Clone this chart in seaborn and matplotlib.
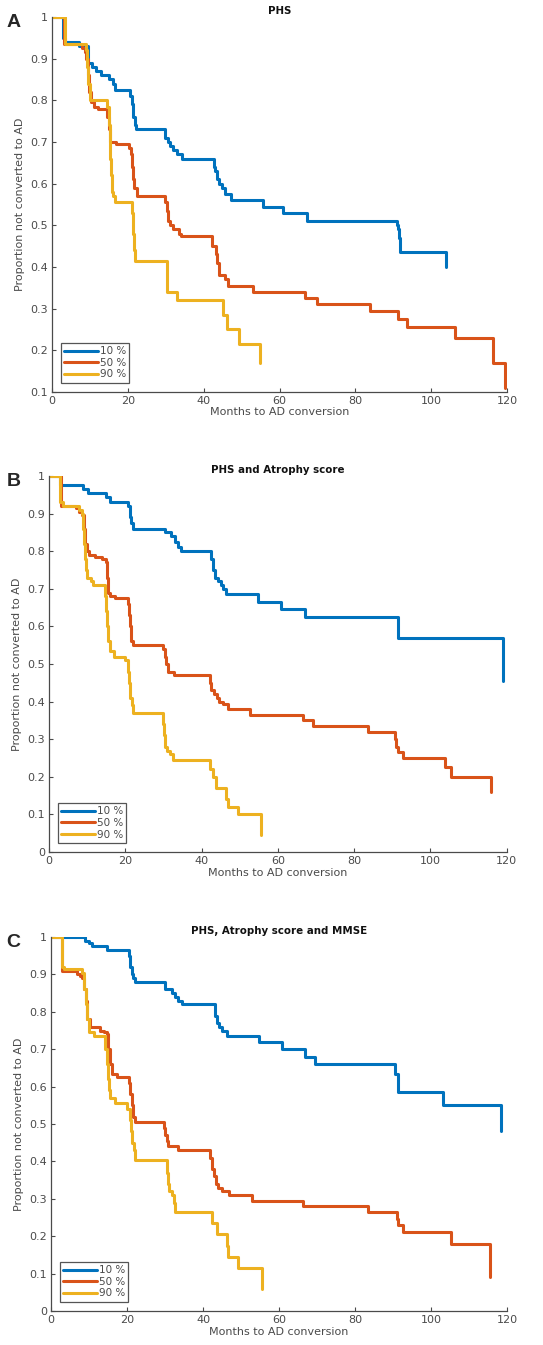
import pandas as pd
import matplotlib
matplotlib.use('Agg')
import matplotlib.pyplot as plt
import seaborn as sns

# --- Panel A: PHS ---
t_A_10 = [0, 3, 3.5, 7, 9.5, 10.5, 11.5, 13, 15, 16, 16.7, 20.6, 21, 21.4, 21.8, 22.2, 29.9, 30.5, 31.2, 32, 33,
          34.2, 42.6, 43, 43.4, 44, 44.8, 45.6, 47.2, 55.7, 61, 67.2, 90.9, 91.2, 91.5, 91.8, 103.9]
s_A_10 = [1.0, 0.95, 0.94, 0.93, 0.89, 0.88, 0.87, 0.86, 0.85, 0.84, 0.825, 0.81, 0.79, 0.76, 0.74, 0.73, 0.71, 0.70,
          0.69, 0.68, 0.67, 0.66, 0.64, 0.63, 0.61, 0.60, 0.59, 0.575, 0.56, 0.545, 0.53, 0.51, 0.50, 0.49, 0.47,
          0.435, 0.40]
t_A_50 = [0, 3.2, 8, 8.6, 9, 9.4, 9.8, 10.2, 11, 12, 14.6, 15, 15.3, 17, 20.2, 20.7, 21, 21.3, 21.6, 22.3, 29.9, 30.3,
          30.7, 31.2, 32, 33.5, 34, 42.1, 43.2, 43.6, 44, 45.5, 46.5, 53.1, 66.7, 69.8, 83.8, 91.3, 93.5, 106.2,
          116.3, 119.4]
s_A_50 = [1.0, 0.935, 0.925, 0.915, 0.90, 0.86, 0.82, 0.795, 0.785, 0.78, 0.76, 0.73, 0.70, 0.695, 0.685, 0.67, 0.64,
          0.61, 0.59, 0.57, 0.555, 0.535, 0.51, 0.50, 0.49, 0.48, 0.475, 0.45, 0.43, 0.41, 0.38, 0.37, 0.355, 0.34,
          0.325, 0.31, 0.295, 0.275, 0.255, 0.23, 0.17, 0.11]
t_A_90 = [0, 3.3, 9, 9.3, 9.6, 10.1, 14.5, 15, 15.2, 15.4, 15.6, 15.8, 16.1, 16.7, 21.1, 21.4, 21.7, 22, 30.3, 32.9,
          45.2, 46.1, 49.2, 54.9]
s_A_90 = [1.0, 0.935, 0.92, 0.88, 0.84, 0.80, 0.785, 0.74, 0.70, 0.66, 0.62, 0.58, 0.57, 0.555, 0.53, 0.48, 0.44,
          0.415, 0.34, 0.32, 0.285, 0.25, 0.215, 0.17]

# --- Panel B: PHS and Atrophy score ---
t_B_10 = [0, 3, 8.9, 10.2, 15, 15.9, 20.7, 21.2, 21.6, 22, 30.3, 32, 33, 33.8, 34.7, 42.5, 43, 43.4, 44.3, 45, 45.6,
          46.5, 54.8, 60.9, 67, 91.4, 119]
s_B_10 = [1.0, 0.975, 0.965, 0.955, 0.945, 0.93, 0.92, 0.89, 0.875, 0.86, 0.85, 0.84, 0.825, 0.81, 0.80, 0.78, 0.75,
          0.73, 0.72, 0.71, 0.70, 0.685, 0.665, 0.645, 0.625, 0.57, 0.455]
t_B_50 = [0, 3.2, 7, 8, 8.7, 9.1, 9.5, 10, 10.6, 12, 14, 15, 15.3, 15.6, 15.9, 17.2, 20.7, 21, 21.3, 21.6, 22, 29.9,
          30.3, 30.7, 31.2, 32.9, 42.1, 42.6, 43.2, 44, 44.7, 45.5, 46.9, 52.6, 66.5, 69.2, 83.6, 90.6, 91, 91.4,
          92.8, 103.7, 105.4, 115.9]
s_B_50 = [1.0, 0.92, 0.915, 0.905, 0.895, 0.86, 0.82, 0.80, 0.79, 0.785, 0.78, 0.77, 0.73, 0.69, 0.68, 0.675, 0.66,
          0.63, 0.60, 0.56, 0.55, 0.54, 0.52, 0.50, 0.48, 0.47, 0.45, 0.43, 0.42, 0.41, 0.40, 0.395, 0.38, 0.365,
          0.35, 0.335, 0.32, 0.30, 0.28, 0.265, 0.25, 0.225, 0.20, 0.16]
t_B_90 = [0, 3, 3.6, 8, 8.7, 9, 9.3, 9.5, 9.7, 10, 11, 11.5, 14.6, 14.9, 15.1, 15.4, 15.9, 17, 19.8, 20.7, 21, 21.3,
          21.7, 22, 29.9, 30.2, 30.5, 31, 31.6, 32.5, 42.1, 43, 43.8, 46.5, 46.8, 49.5, 55.6]
s_B_90 = [1.0, 0.93, 0.92, 0.91, 0.90, 0.86, 0.82, 0.78, 0.75, 0.73, 0.72, 0.71, 0.68, 0.64, 0.60, 0.56, 0.535,
          0.52, 0.51, 0.48, 0.45, 0.41, 0.39, 0.37, 0.34, 0.31, 0.28, 0.27, 0.26, 0.245, 0.22, 0.20, 0.17, 0.14,
          0.12, 0.10, 0.045]

# --- Panel C: PHS, Atrophy score and MMSE ---
t_C_10 = [0, 9, 9.9, 10.8, 14.7, 20.4, 20.8, 21.2, 21.6, 22.2, 30, 31.8, 32.5, 33.5, 34.4, 43.2, 43.7, 44.3, 45,
          46.2, 54.6, 60.7, 66.8, 69.4, 90.5, 91.3, 103.2, 118.5]
s_C_10 = [1.0, 0.99, 0.985, 0.975, 0.965, 0.95, 0.92, 0.90, 0.89, 0.88, 0.86, 0.85, 0.84, 0.83, 0.82, 0.79, 0.77,
          0.76, 0.75, 0.735, 0.72, 0.70, 0.68, 0.66, 0.635, 0.585, 0.55, 0.48]
t_C_50 = [0, 2.9, 6.8, 7.5, 8.1, 8.7, 9.1, 9.5, 10.3, 13, 14, 14.7, 15.1, 15.5, 16, 17.3, 20.4, 20.8, 21.2, 21.6,
          22.2, 29.6, 30.1, 30.5, 30.9, 33.5, 41.9, 42.4, 42.8, 43.3, 44, 44.9, 46.7, 52.8, 66.4, 83.5, 90.9, 91.3,
          92.6, 105.3, 115.4]
s_C_50 = [1.0, 0.91, 0.90, 0.895, 0.89, 0.86, 0.83, 0.78, 0.76, 0.75, 0.745, 0.74, 0.70, 0.66, 0.635, 0.625, 0.61,
          0.58, 0.55, 0.52, 0.505, 0.49, 0.47, 0.455, 0.44, 0.43, 0.41, 0.38, 0.36, 0.34, 0.33, 0.32, 0.31, 0.295,
          0.28, 0.265, 0.245, 0.23, 0.21, 0.18, 0.09]
t_C_90 = [0, 2.9, 3.5, 8.1, 8.8, 9.1, 9.4, 9.9, 11.2, 14.3, 14.6, 14.9, 15.2, 15.6, 16.9, 20, 20.8, 21.1, 21.4, 21.7,
          22, 22.2, 30.5, 30.7, 31, 31.8, 32.3, 32.7, 42.3, 43.7, 46.2, 46.5, 49.3, 55.4]
s_C_90 = [1.0, 0.92, 0.915, 0.905, 0.86, 0.82, 0.78, 0.745, 0.735, 0.70, 0.66, 0.62, 0.59, 0.57, 0.555, 0.54, 0.51,
          0.48, 0.45, 0.43, 0.415, 0.405, 0.37, 0.34, 0.32, 0.31, 0.29, 0.265, 0.235, 0.205, 0.175, 0.145, 0.115,
          0.06]

groups = ['10 %', '50 %', '90 %']
colors = ['#0072BD', '#D95319', '#EDB120']

panels = [
    ('A', 'PHS', [(t_A_10, s_A_10), (t_A_50, s_A_50), (t_A_90, s_A_90)], 0.1, [0.0958, 0.7086, 0.838, 0.2788]),
    ('B', 'PHS and Atrophy score', [(t_B_10, s_B_10), (t_B_50, s_B_50), (t_B_90, s_B_90)], 0.0,
     [0.0902, 0.3665, 0.843, 0.2796]),
    ('C', 'PHS, Atrophy score and MMSE', [(t_C_10, s_C_10), (t_C_50, s_C_50), (t_C_90, s_C_90)], 0.0,
     [0.0940, 0.0253, 0.840, 0.2780]),
]

sns.set_style('ticks')
plt.rcParams['font.family'] = ['DejaVu Sans']
axcol = '#4a4a4a'

fig = plt.figure(figsize=(5.43, 13.45), dpi=100)

for letter, title, curves, ymin, pos in panels:
    ax = fig.add_axes(pos)
    frames = []
    for g, (t, s) in zip(groups, curves):
        frames.append(pd.DataFrame({'month': t, 'prop': s, 'group': g}))
    df = pd.concat(frames, ignore_index=True)
    sns.lineplot(data=df, x='month', y='prop', hue='group', palette=colors, estimator=None,
                 sort=False, drawstyle='steps-post', linewidth=2.2, ax=ax, legend=False)

    ax.set_xlim(0, 120)
    ax.set_ylim(ymin, 1)
    ax.set_xticks(range(0, 121, 20))
    yt = [round(v / 10, 1) for v in range(int(round(ymin * 10)), 11)]
    ax.set_yticks(yt)
    ax.set_yticklabels(['%g' % v for v in yt])
    ax.tick_params(direction='in', length=3, width=0.8, colors=axcol, labelsize=8, pad=3)
    for side in ['top', 'right']:
        ax.spines[side].set_visible(False)
    for side in ['left', 'bottom']:
        ax.spines[side].set_color(axcol)
        ax.spines[side].set_linewidth(0.9)
    ax.set_xlabel('Months to AD conversion', fontsize=8, color=axcol, labelpad=1)
    ax.set_ylabel('Proportion not converted to AD', fontsize=8, color=axcol, labelpad=4)
    ax.set_title(title, fontsize=7.4, fontweight='bold', color='#111111', pad=2)

    handles = [plt.Line2D([], [], color=c, linewidth=2.2) for c in colors]
    leg = ax.legend(handles, groups, loc='lower left', bbox_to_anchor=(0.02, 0.025), fontsize=7.5,
                    handlelength=3.2, handletextpad=0.2, labelspacing=0.15, borderpad=0.3,
                    fancybox=False, framealpha=1, edgecolor='#555555', borderaxespad=0)
    leg.get_frame().set_linewidth(0.9)
    for txt in leg.get_texts():
        txt.set_color(axcol)

    fig.text(0.012, pos[1] + pos[3] + 0.002, letter, fontsize=14, fontweight='bold',
             family=['Liberation Sans', 'DejaVu Sans'], va='top', ha='left')

fig.savefig('out.png', dpi=100)
